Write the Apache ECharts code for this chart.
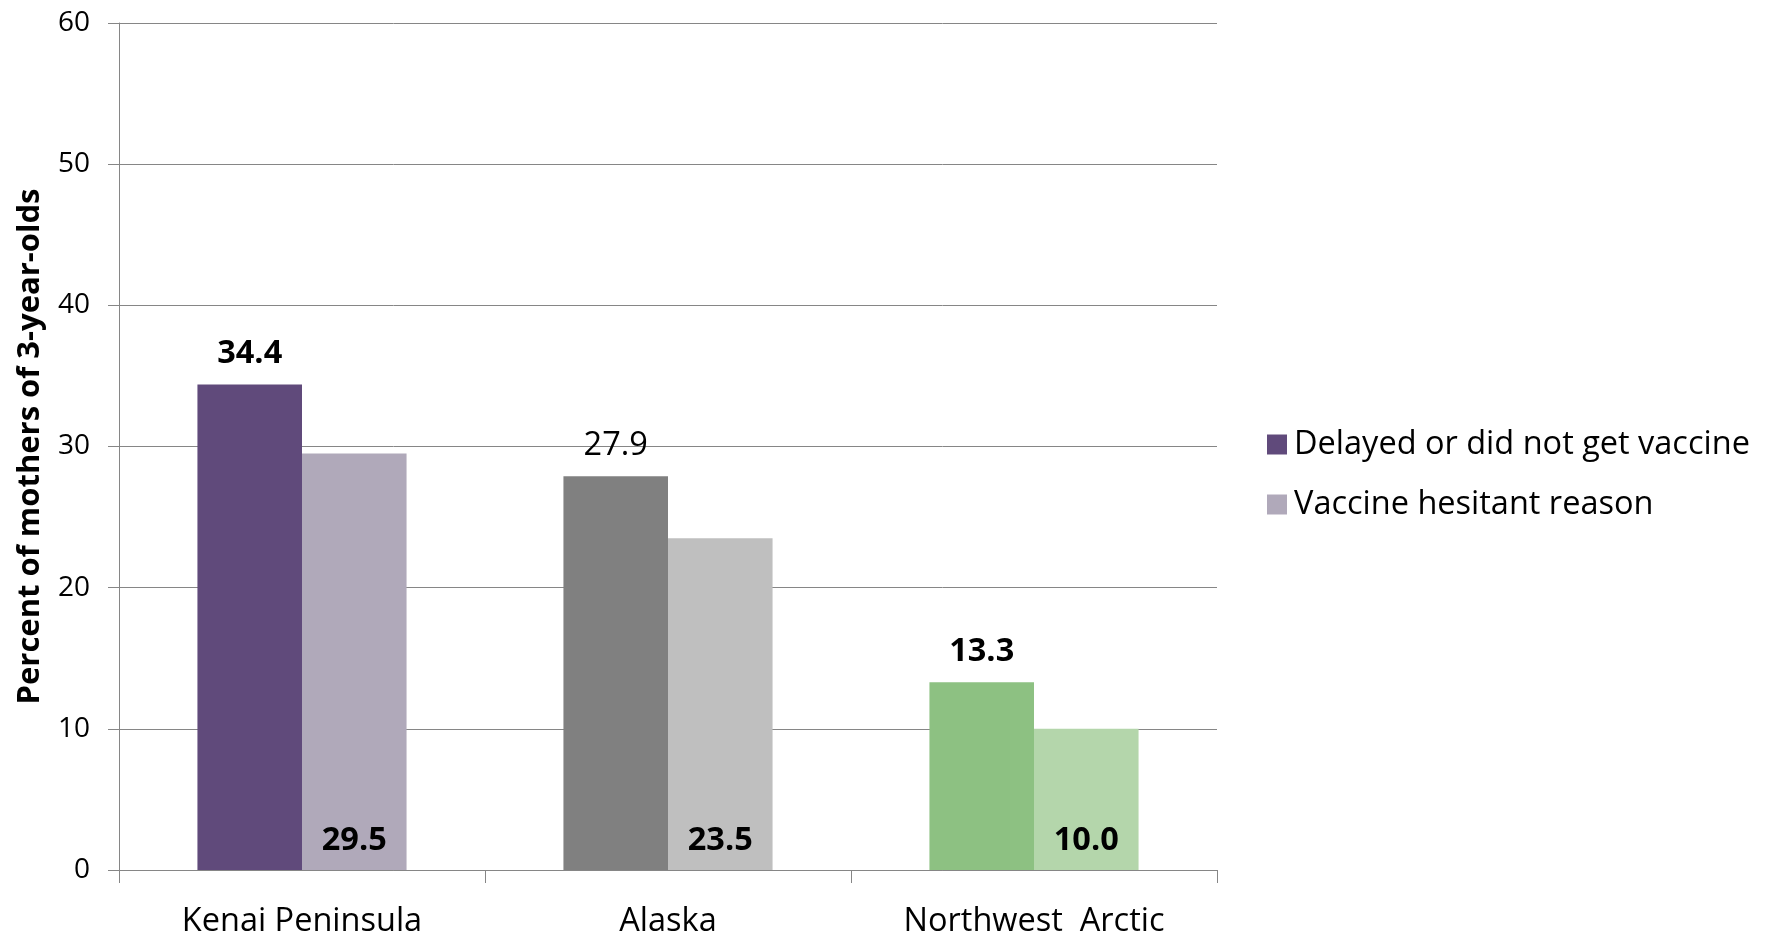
<!DOCTYPE html>
<html>
<head>
<meta charset="utf-8">
<script src="https://cdn.jsdelivr.net/npm/echarts@6/dist/echarts.min.js"></script>
<style>html,body{margin:0;padding:0;background:#fff}#c{width:1770px;height:934px}</style>
</head>
<body>
<div id="c"></div>
<script>
const categories = ['Kenai Peninsula', 'Alaska', 'Northwest  Arctic'];
const seriesNames = ['Delayed or did not get vaccine', 'Vaccine hesitant reason'];
const delayedValues = [34.4, 27.9, 13.3];
const hesitantValues = [29.5, 23.5, 10.0];
const delayedColors = ['#604A7B', '#808080', '#8DC182'];
const hesitantColors = ['#B0A9BA', '#BFBFBF', '#B4D6AB'];
const delayedBold = [true, false, true];
const yTicks = [0, 10, 20, 30, 40, 50, 60];

const FONT = 'Open Sans';
const chart = echarts.init(document.getElementById('c'));
chart.setOption({
  animation: false,
  backgroundColor: '#fff',
  textStyle: { fontFamily: FONT },
  grid: { left: 119, right: 553, top: 23, bottom: 64, containLabel: false, outerBoundsMode: 'none' },
  legend: {
    orient: 'vertical',
    left: 1262,
    top: 423,
    itemWidth: 20,
    itemHeight: 20,
    itemGap: 27,
    icon: 'rect',
    textStyle: { fontFamily: FONT, fontSize: 32.5, color: '#000', padding: [0, 0, 0, 2] },
    data: seriesNames
  },
  xAxis: {
    type: 'category',
    data: categories,
    axisLine: { lineStyle: { color: '#868686', width: 1 } },
    axisTick: { show: true, length: 13, lineStyle: { color: '#868686' } },
    axisLabel: { color: '#000', fontSize: 32.5, margin: 35, fontFamily: FONT }
  },
  yAxis: {
    type: 'value',
    min: yTicks[0],
    max: yTicks[yTicks.length - 1],
    interval: 10,
    name: 'Percent of mothers of 3-year-olds',
    nameLocation: 'middle',
    nameGap: 73,
    nameTextStyle: { fontSize: 31, fontWeight: 'bold', color: '#000', fontFamily: FONT },
    axisLine: { show: true, lineStyle: { color: '#868686', width: 1 } },
    axisTick: { show: true, length: 11, lineStyle: { color: '#868686' } },
    splitLine: { lineStyle: { color: '#868686', width: 1 } },
    axisLabel: { color: '#000', fontSize: 28, margin: 29, fontFamily: FONT }
  },
  series: [
    {
      name: seriesNames[0],
      type: 'bar',
      barCategoryGap: '42.86%',
      barGap: '0%',
      itemStyle: { color: delayedColors[0] },
      data: delayedValues.map((v, i) => ({
        value: v,
        itemStyle: { color: delayedColors[i] },
        label: { fontWeight: delayedBold[i] ? 'bold' : 'normal' }
      })),
      label: {
        show: true, position: 'top', distance: 14,
        fontSize: 32.5, color: '#000', fontFamily: FONT,
        formatter: p => p.value.toFixed(1)
      }
    },
    {
      name: seriesNames[1],
      type: 'bar',
      barGap: '0%',
      itemStyle: { color: hesitantColors[0] },
      data: hesitantValues.map((v, i) => ({ value: v, itemStyle: { color: hesitantColors[i] } })),
      label: {
        show: true, position: 'insideBottom', distance: 13,
        fontSize: 32.5, fontWeight: 'bold', color: '#000', fontFamily: FONT,
        formatter: p => p.value.toFixed(1)
      }
    }
  ]
});
</script>
</body>
</html>
